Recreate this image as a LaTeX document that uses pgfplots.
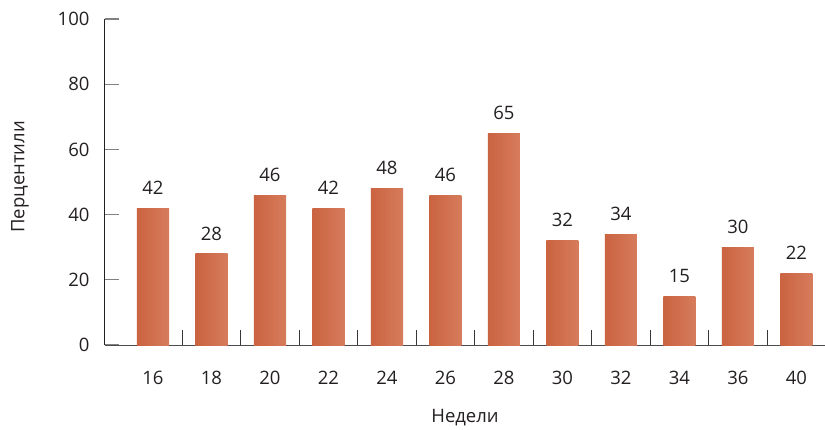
\documentclass[border=0pt]{standalone}
\usepackage{pgfplots}
\pgfplotsset{compat=1.18}
\usepackage{fontspec}
\setmainfont{Open Sans}
\definecolor{barL}{HTML}{CA6340}
\definecolor{barR}{HTML}{D67C5C}
\definecolor{txt}{HTML}{231F20}
\definecolor{tickgray}{HTML}{808080}
\pgfplotsset{
  weekbar/.style={ybar, bar shift=0pt, bar width=0.55, draw=none,
    left color=barL, right color=barR,
    nodes near coords,
    every node near coord/.append style={font=\fontsize{18.5}{20}\selectfont, text=txt, yshift=10pt}},
}
\begin{document}
\begin{tikzpicture}
\useasboundingbox (-105pt,-84pt) rectangle (720pt,345pt);
\begin{axis}[
  scale only axis,
  width=720pt, height=326pt,
  xmin=-0.82, xmax=11.49,
  ymin=0, ymax=100,
  axis lines=left,
  axis line style={-, line width=1pt, draw=txt},
  x axis line style={draw=txt!80},
  ytick={0,20,...,100},
  xtick={0,...,11},
  xticklabels={16,18,20,22,24,26,28,30,32,34,36,40},
  minor xtick={0.5,1.5,...,10.5},
  xtick style={draw=none},
  minor x tick style={draw=txt!90, line width=1pt},
  y tick style={draw=tickgray, line width=1.2pt},
  major tick length=14pt,
  minor tick length=15pt,
  tick align=inside,
  tick pos=left,
  tick label style={font=\fontsize{18.5}{20}\selectfont, text=txt},
  yticklabel style={xshift=-12pt},
  xticklabel style={yshift=-23pt},
  label style={font=\fontsize{18.5}{20}\selectfont, text=txt},
  xlabel={Недели},
  ylabel={Перцентили},
  xlabel style={at={(axis description cs:0.5,0)}, anchor=center, yshift=-73pt},
  ylabel style={at={(axis description cs:-0.118,0.5)}, anchor=center, xshift=5pt},
  /pgf/number format/assume math mode=true,
  clip=false,
]
% one plot per week so that each bar carries its own gradient
\addplot[weekbar] coordinates {(0,42)};
\addplot[weekbar] coordinates {(1,28)};
\addplot[weekbar] coordinates {(2,46)};
\addplot[weekbar] coordinates {(3,42)};
\addplot[weekbar] coordinates {(4,48)};
\addplot[weekbar] coordinates {(5,46)};
\addplot[weekbar] coordinates {(6,65)};
\addplot[weekbar] coordinates {(7,32)};
\addplot[weekbar] coordinates {(8,34)};
\addplot[weekbar] coordinates {(9,15)};
\addplot[weekbar] coordinates {(10,30)};
\addplot[weekbar] coordinates {(11,22)};
\end{axis}
\end{tikzpicture}
\end{document}
